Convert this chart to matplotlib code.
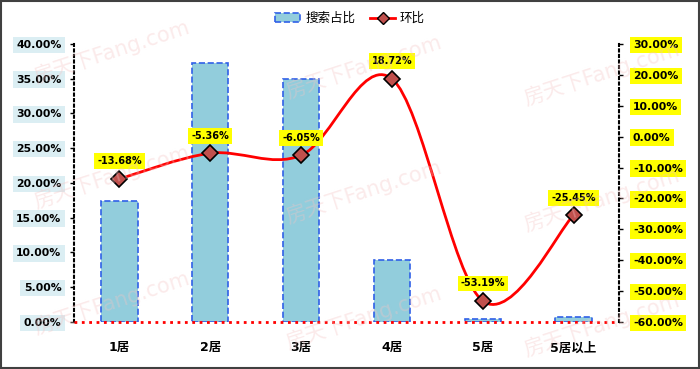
import matplotlib
matplotlib.use('Agg')
import matplotlib.pyplot as plt
from matplotlib.path import Path
from matplotlib.patches import PathPatch, Patch, Rectangle
from matplotlib.lines import Line2D
import numpy as np

plt.rcParams['font.family'] = ['DejaVu Sans', 'Noto Sans CJK SC']

categories = ['1居', '2居', '3居', '4居', '5居', '5居以上']
share = [17.45, 37.2, 35.0, 8.9, 0.4, 0.7]          # 搜索占比 (%)
change = [-13.68, -5.36, -6.05, 18.72, -53.19, -25.45]  # 环比 (%)
left_ticks = [0, 5, 10, 15, 20, 25, 30, 35, 40]
right_ticks = [-60, -50, -40, -30, -20, -10, 0, 10, 20, 30]

fig = plt.figure(figsize=(7, 3.69), dpi=100)
ax = fig.add_axes([0.1057, 0.1274, 0.7786, 0.7534])
ax2 = ax.twinx()

x = np.arange(len(categories))

# faint watermark
for (wx, wy) in [(0.16, 0.86), (0.52, 0.82), (0.86, 0.80), (0.16, 0.52),
                 (0.52, 0.48), (0.86, 0.46), (0.16, 0.18), (0.52, 0.14), (0.86, 0.12)]:
    fig.text(wx, wy, '房天下Fang.com', color='#f4c4c4', alpha=0.35, fontsize=15,
             rotation=18, ha='center', va='center', zorder=0)

ax.bar(x, share, width=0.4, color='#92cddc', edgecolor='#3060e8',
       linestyle='--', linewidth=1.2, zorder=2)

# smooth line (Catmull-Rom style bezier through the points)
pts = np.column_stack([x, change]).astype(float)
verts = [tuple(pts[0])]
codes = [Path.MOVETO]
for i in range(len(pts) - 1):
    p0 = pts[i - 1] if i > 0 else pts[i]
    p1 = pts[i]
    p2 = pts[i + 1]
    p3 = pts[i + 2] if i + 2 < len(pts) else pts[i + 1]
    c1 = p1 + (p2 - p0) / 6.0
    c2 = p2 - (p3 - p1) / 6.0
    verts += [tuple(c1), tuple(c2), tuple(p2)]
    codes += [Path.CURVE4] * 3
ax2.add_patch(PathPatch(Path(verts, codes), facecolor='none', edgecolor='#ff0000',
                        linewidth=2, zorder=3))
ax2.plot(x, change, linestyle='none', marker='D', markersize=8,
         markerfacecolor='#c0504d', markeredgecolor='#000000', markeredgewidth=1.2, zorder=4)

for xi, v in zip(x, change):
    ax2.annotate('%.2f%%' % v, (xi, v), xytext=(0, 9), textcoords='offset points',
                 ha='center', va='bottom', fontsize=7, fontweight='bold',
                 bbox=dict(boxstyle='square,pad=0.3', facecolor='#ffff00', edgecolor='none'),
                 zorder=5)

ax.set_xlim(-0.5, len(categories) - 0.5)
ax.set_ylim(0, 40)
ax2.set_ylim(-60, 30)

ax.set_xticks(x)
ax.set_xticklabels(categories, fontsize=9, fontweight='bold')
ax.tick_params(axis='x', length=0, pad=14)

ax.set_yticks(left_ticks)
ax.set_yticklabels(['%.2f%%' % t for t in left_ticks], fontsize=7.8, fontweight='bold')
for lab in ax.get_yticklabels():
    lab.set_bbox(dict(boxstyle='square,pad=0.3', facecolor='#dbeef3', edgecolor='none'))
ax.tick_params(axis='y', length=3, width=1, pad=6, direction='out')

ax2.set_yticks(right_ticks)
ax2.set_yticklabels(['%.2f%%' % t for t in right_ticks], fontsize=7.8, fontweight='bold')
for lab in ax2.get_yticklabels():
    lab.set_bbox(dict(boxstyle='square,pad=0.3', facecolor='#ffff00', edgecolor='none'))
ax2.tick_params(axis='y', length=3, width=1, pad=7, direction='out')

for a in (ax, ax2):
    a.spines['top'].set_visible(False)
    a.spines['bottom'].set_visible(False)
    a.patch.set_visible(False)
ax.spines['right'].set_visible(False)
ax2.spines['left'].set_visible(False)
ax.spines['left'].set_linestyle(':')
ax.spines['left'].set_linewidth(1.5)
ax2.spines['right'].set_linestyle(':')
ax2.spines['right'].set_linewidth(1.5)
ax.axhline(0, color='#ff0000', linestyle=':', linewidth=2, zorder=3, clip_on=False)

handles = [Patch(facecolor='#92cddc', edgecolor='#3060e8', linestyle='--', linewidth=1.2),
           Line2D([0], [0], color='#ff0000', linewidth=2, marker='D', markersize=6,
                  markerfacecolor='#c0504d', markeredgecolor='#000000')]
fig.legend(handles, ['搜索占比', '环比'], loc='center', bbox_to_anchor=(0.5, 0.95),
           ncol=2, frameon=False, fontsize=9, handlelength=2.0, columnspacing=1.2,
           handletextpad=0.4)

fig.add_artist(Rectangle((0.002, 0.003), 0.996, 0.994, transform=fig.transFigure,
                         fill=False, edgecolor='#404040', linewidth=1.5))

fig.savefig('out.png', dpi=100)
